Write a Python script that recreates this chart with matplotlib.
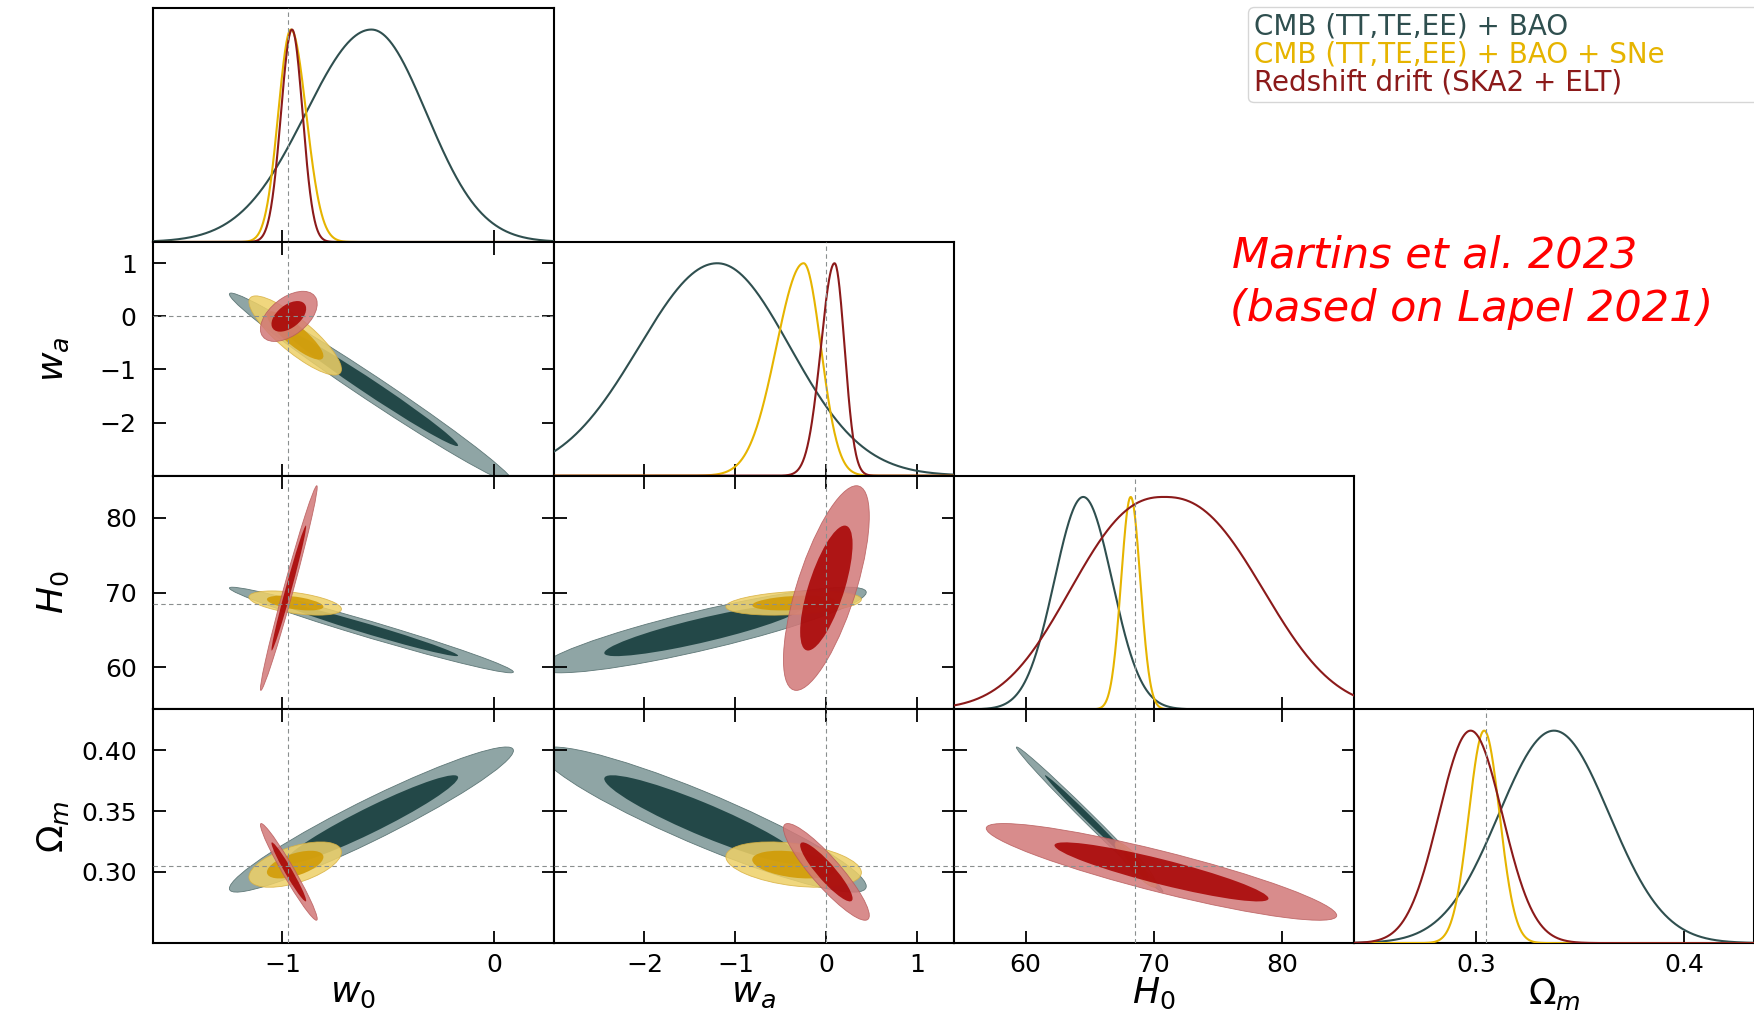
import numpy as np
import matplotlib
matplotlib.use('Agg')
import matplotlib.pyplot as plt
from matplotlib.patches import Ellipse
from matplotlib.lines import Line2D

# parameters of the triangle plot
param_labels = [r'$w_0$', r'$w_a$', r'$H_0$', r'$\Omega_m$']
fiducial = [-0.975, 0.0, 68.5, 0.305]
ranges = [(-1.61, 0.28), (-3.0, 1.4), (54.4, 85.6), (0.2415, 0.4335)]
xticks = [[-1, 0], [-2, -1, 0, 1], [60, 70, 80], [0.3, 0.4]]
xticklabels = [['\u22121', '0'], ['\u22122', '\u22121', '0', '1'], ['60', '70', '80'], ['0.3', '0.4']]
yticks = [[], [-2, -1, 0, 1], [60, 70, 80], [0.30, 0.35, 0.40]]
yticklabels = [[], ['\u22122', '\u22121', '0', '1'], ['60', '70', '80'], ['0.30', '0.35', '0.40']]

series = ['CMB (TT,TE,EE) + BAO', 'CMB (TT,TE,EE) + BAO + SNe', 'Redshift drift (SKA2 + ELT)']
line_colors = ['#2f4f4f', '#e6b400', '#8b1a1a']
inner_colors = ['#234848', '#d19900', '#a70000']
outer_colors = ['#8fa5a5', '#eed067', '#d27878']
edge_colors = ['#5f7878', '#d8b040', '#b85c5c']
fill_alpha = [1.0, 0.85, 0.85]

# 1D marginals: peak, lower width, upper width, shape exponent (per parameter)
peak_1d = [[-0.58, -1.20, 64.5, 0.3375],
           [-0.960, -0.25, 68.2, 0.304],
           [-0.955, 0.09, 70.8, 0.2975]]
lo_1d = [[0.31, 0.86, 2.25, 0.0265],
         [0.060, 0.30, 0.75, 0.0074],
         [0.052, 0.15, 6.9, 0.0152]]
hi_1d = [[0.26, 0.80, 2.25, 0.0265],
         [0.072, 0.19, 0.75, 0.0074],
         [0.050, 0.11, 7.3, 0.0152]]
shape_1d = [[2, 2, 2, 2],
            [2, 2, 2, 2],
            [2, 2, 2.4, 2]]

# 2D contours: centre, widths, correlations (pairs w0-wa, w0-H0, w0-Om, wa-H0, wa-Om, H0-Om)
mean_2d = [[-0.58, -1.35, 65.0, 0.343],
           [-0.94, -0.36, 68.6, 0.306],
           [-0.97, 0.0, 70.6, 0.300]]
sigma_2d = [[0.27, 0.72, 2.3, 0.024],
            [0.088, 0.30, 0.65, 0.0075],
            [0.054, 0.19, 5.5, 0.016]]
pairs = [(0, 1), (0, 2), (0, 3), (1, 2), (1, 3), (2, 3)]
corr_cmb = [-0.988, -0.98, 0.95, 0.88, -0.92, -0.995]
corr_sne = [-0.85, -0.5, 0.55, 0.3, -0.35, -0.9]
corr_drift = [0.5, 0.984, -0.97, 0.7, -0.9, -0.9]
corr_2d = [corr_cmb, corr_sne, corr_drift]

chi2_levels = [6.17, 2.30]  # 95% and 68%

plt.rcParams['font.family'] = ['DejaVu Sans']
plt.rcParams['mathtext.fontset'] = 'dejavusans'

W, H = 1754.0, 1010.0
fig = plt.figure(figsize=(W / 100, H / 100), dpi=100)
x0, y0, cw, rh = 153.3, 8.3, 400.2, 233.7


def marginal(x, k, p):
    z = np.where(x < peak_1d[k][p], (x - peak_1d[k][p]) / lo_1d[k][p], (x - peak_1d[k][p]) / hi_1d[k][p])
    return np.exp(-0.5 * np.abs(z) ** shape_1d[k][p])


def add_ellipses(ax, k, px, py):
    r = corr_2d[k][pairs.index((px, py))]
    sx, sy = sigma_2d[k][px], sigma_2d[k][py]
    cov = np.array([[sx * sx, r * sx * sy], [r * sx * sy, sy * sy]])
    vals, vecs = np.linalg.eigh(cov)
    angle = np.degrees(np.arctan2(vecs[1, 1], vecs[0, 1]))
    for lev, col in zip(chi2_levels, [outer_colors[k], inner_colors[k]]):
        e = Ellipse((mean_2d[k][px], mean_2d[k][py]),
                    width=2 * np.sqrt(lev * vals[1]), height=2 * np.sqrt(lev * vals[0]),
                    angle=angle, facecolor=col, alpha=fill_alpha[k],
                    edgecolor=edge_colors[k] if lev > 3 else 'none', lw=0.6, zorder=1 + k)
        ax.add_patch(e)


for i in range(4):
    for j in range(i + 1):
        ax = fig.add_axes([(x0 + cw * j) / W, 1 - (y0 + rh * (i + 1)) / H, cw / W, rh / H])
        for s in ax.spines.values():
            s.set_linewidth(1.5)
        ax.set_xlim(*ranges[j])
        ax.set_xticks(xticks[j])
        ax.set_xticklabels(xticklabels[j] if i == 3 else [])
        ax.axvline(fiducial[j], color='#8a8f8f', lw=0.8, ls=(0, (4, 3)), zorder=6)
        if i == j:
            x = np.linspace(ranges[j][0], ranges[j][1], 800)
            for k in range(3):
                ax.plot(x, marginal(x, k, j), color=line_colors[k], lw=1.5, zorder=3 + k)
            ax.set_ylim(0, 1.1)
            ax.set_yticks([])
            ax.tick_params(axis='x', direction='in', length=9, width=1.3, labelsize=18, pad=7,
                           top=False, bottom=True)
        else:
            for k in range(3):
                add_ellipses(ax, k, j, i)
            ax.axhline(fiducial[i], color='#8a8f8f', lw=0.8, ls=(0, (4, 3)), zorder=6)
            ax.set_ylim(*ranges[i])
            ax.set_yticks(yticks[i])
            ax.set_yticklabels(yticklabels[i] if j == 0 else [])
            ax.tick_params(axis='both', direction='in', length=9, width=1.3, labelsize=18,
                           top=True, right=True)
            ax.tick_params(axis='x', pad=7)
            ax.tick_params(axis='y', pad=12)
        if i == 3:
            ax.set_xlabel(param_labels[j], fontsize=26)
            ax.xaxis.set_label_coords(0.5, -0.14)
        if j == 0 and i > 0:
            ax.set_ylabel(param_labels[i], fontsize=26)
            ax.yaxis.set_label_coords(-0.205, 0.5)

handles = [Line2D([], [], lw=0) for _ in series]
leg = fig.legend(handles, series, loc='upper left',
                 bbox_to_anchor=(1248 / W, 1 - 101 / H, (1770 - 1248) / W, 94 / H),
                 mode='expand', borderaxespad=0, handlelength=0, handletextpad=0,
                 labelcolor=line_colors, fontsize=20, frameon=True, fancybox=True,
                 edgecolor='#cccccc', borderpad=0.2, labelspacing=0.0)

fig.text(1232 / W, 1 - 268 / H, 'Martins et al. 2023', color='red', style='italic',
         fontsize=31, va='baseline', ha='left')
fig.text(1230 / W, 1 - 321 / H, '(based on Lapel 2021)', color='red', style='italic',
         fontsize=31, va='baseline', ha='left')

fig.savefig('out.png', dpi=100)
